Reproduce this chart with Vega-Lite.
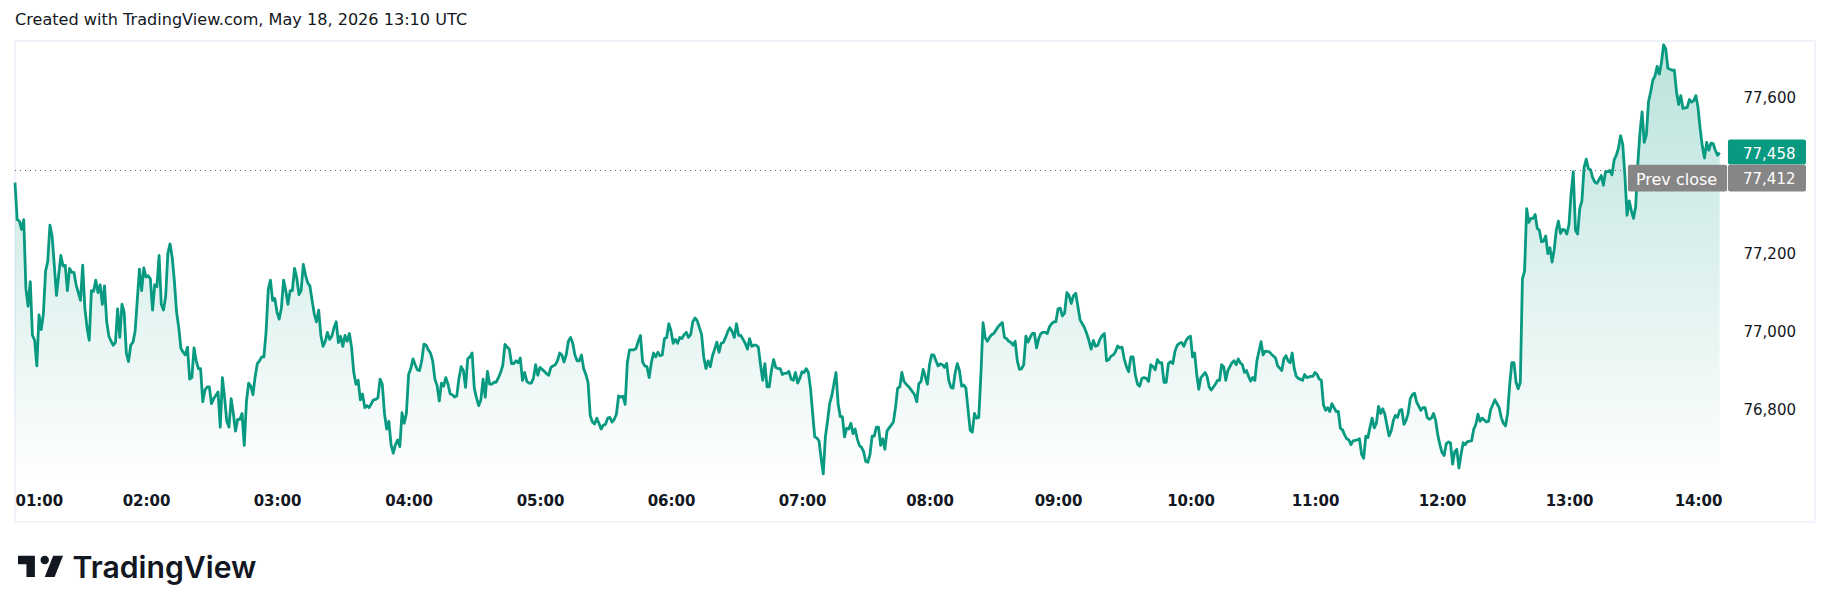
{"$schema":"https://vega.github.io/schema/vega-lite/v6.json","autosize":{"type":"none"},"padding":{"left":15,"top":41,"right":15,"bottom":89},"width":1800,"height":481,"background":"#ffffff","view":{"stroke":"#f0f3fa","strokeWidth":2},
"title":{"text":"Created with TradingView.com, May 18, 2026 13:10 UTC","anchor":"start","frame":"group","offset":13,"font":"DejaVu Sans","fontSize":16.1,"fontWeight":"normal","color":"#131722"},
"data":{"format":{"parse":{"t":"utc:'%H:%M'"}},"values":[
{"t":"01:00","p":77381},{"t":"01:01","p":77286},{"t":"01:02","p":77282},{"t":"01:03","p":77261},{"t":"01:04","p":77286},{"t":"01:05","p":77109},{"t":"01:06","p":77064},{"t":"01:07","p":77127},{"t":"01:08","p":76989},{"t":"01:09","p":76977},{"t":"01:10","p":76911},{"t":"01:11","p":77042},{"t":"01:12","p":77004},{"t":"01:13","p":77044},{"t":"01:14","p":77154},{"t":"01:15","p":77179},{"t":"01:16","p":77272},{"t":"01:17","p":77244},{"t":"01:18","p":77169},{"t":"01:19","p":77092},{"t":"01:20","p":77144},{"t":"01:21","p":77194},{"t":"01:22","p":77167},{"t":"01:23","p":77169},{"t":"01:24","p":77104},{"t":"01:25","p":77161},{"t":"01:26","p":77151},{"t":"01:27","p":77151},{"t":"01:28","p":77119},{"t":"01:30","p":77079},{"t":"01:31","p":77169},{"t":"01:32","p":77059},{"t":"01:33","p":77009},{"t":"01:34","p":76977},{"t":"01:35","p":77104},{"t":"01:36","p":77102},{"t":"01:37","p":77131},{"t":"01:38","p":77099},{"t":"01:39","p":77119},{"t":"01:40","p":77069},{"t":"01:41","p":77116},{"t":"01:42","p":77024},{"t":"01:43","p":76987},{"t":"01:44","p":76974},{"t":"01:45","p":76964},{"t":"01:46","p":76971},{"t":"01:47","p":77057},{"t":"01:48","p":76984},{"t":"01:49","p":77069},{"t":"01:50","p":77049},{"t":"01:51","p":76944},{"t":"01:52","p":76922},{"t":"01:53","p":76964},{"t":"01:54","p":76971},{"t":"01:55","p":76999},{"t":"01:56","p":77079},{"t":"01:57","p":77159},{"t":"01:58","p":77104},{"t":"01:59","p":77162},
{"t":"02:00","p":77139},{"t":"02:01","p":77142},{"t":"02:02","p":77134},{"t":"02:03","p":77054},{"t":"02:04","p":77119},{"t":"02:05","p":77114},{"t":"02:06","p":77194},{"t":"02:07","p":77069},{"t":"02:08","p":77054},{"t":"02:09","p":77089},{"t":"02:10","p":77199},{"t":"02:11","p":77224},{"t":"02:12","p":77189},{"t":"02:13","p":77129},{"t":"02:14","p":77049},{"t":"02:15","p":77009},{"t":"02:16","p":76956},{"t":"02:17","p":76946},{"t":"02:18","p":76939},{"t":"02:19","p":76959},{"t":"02:20","p":76877},{"t":"02:21","p":76881},{"t":"02:22","p":76957},{"t":"02:23","p":76924},{"t":"02:24","p":76904},{"t":"02:25","p":76904},{"t":"02:26","p":76819},{"t":"02:27","p":76849},{"t":"02:28","p":76857},{"t":"02:29","p":76857},{"t":"02:30","p":76814},{"t":"02:31","p":76827},{"t":"02:33","p":76844},{"t":"02:34","p":76754},{"t":"02:35","p":76881},{"t":"02:36","p":76829},{"t":"02:37","p":76769},{"t":"02:38","p":76754},{"t":"02:39","p":76827},{"t":"02:40","p":76789},{"t":"02:41","p":76744},{"t":"02:42","p":76774},{"t":"02:43","p":76774},{"t":"02:44","p":76789},{"t":"02:45","p":76707},{"t":"02:46","p":76819},{"t":"02:47","p":76867},{"t":"02:48","p":76859},{"t":"02:49","p":76837},{"t":"02:50","p":76884},{"t":"02:51","p":76917},{"t":"02:52","p":76924},{"t":"02:53","p":76934},{"t":"02:54","p":76934},{"t":"02:55","p":76999},{"t":"02:56","p":77107},{"t":"02:57","p":77131},{"t":"02:58","p":77079},{"t":"02:59","p":77084},
{"t":"03:00","p":77049},{"t":"03:01","p":77031},{"t":"03:02","p":77059},{"t":"03:03","p":77131},{"t":"03:04","p":77104},{"t":"03:05","p":77069},{"t":"03:06","p":77104},{"t":"03:07","p":77104},{"t":"03:08","p":77161},{"t":"03:09","p":77137},{"t":"03:10","p":77094},{"t":"03:11","p":77104},{"t":"03:12","p":77171},{"t":"03:13","p":77144},{"t":"03:14","p":77124},{"t":"03:15","p":77116},{"t":"03:16","p":77079},{"t":"03:17","p":77044},{"t":"03:18","p":77024},{"t":"03:19","p":77054},{"t":"03:20","p":76989},{"t":"03:21","p":76961},{"t":"03:22","p":76974},{"t":"03:23","p":76997},{"t":"03:24","p":76979},{"t":"03:25","p":76987},{"t":"03:26","p":77009},{"t":"03:27","p":77024},{"t":"03:28","p":76971},{"t":"03:29","p":76987},{"t":"03:30","p":76961},{"t":"03:31","p":76989},{"t":"03:32","p":76974},{"t":"03:33","p":76994},{"t":"03:34","p":76959},{"t":"03:35","p":76894},{"t":"03:36","p":76864},{"t":"03:37","p":76874},{"t":"03:38","p":76824},{"t":"03:39","p":76839},{"t":"03:40","p":76804},{"t":"03:41","p":76809},{"t":"03:42","p":76804},{"t":"03:43","p":76814},{"t":"03:44","p":76824},{"t":"03:45","p":76825},{"t":"03:46","p":76829},{"t":"03:47","p":76877},{"t":"03:48","p":76864},{"t":"03:49","p":76789},{"t":"03:50","p":76749},{"t":"03:51","p":76769},{"t":"03:52","p":76709},{"t":"03:53","p":76687},{"t":"03:54","p":76709},{"t":"03:55","p":76721},{"t":"03:56","p":76704},{"t":"03:57","p":76791},{"t":"03:58","p":76764},{"t":"03:59","p":76789},
{"t":"04:00","p":76889},{"t":"04:01","p":76904},{"t":"04:02","p":76929},{"t":"04:03","p":76914},{"t":"04:04","p":76901},{"t":"04:05","p":76899},{"t":"04:06","p":76924},{"t":"04:07","p":76967},{"t":"04:08","p":76964},{"t":"04:09","p":76952},{"t":"04:10","p":76944},{"t":"04:11","p":76924},{"t":"04:12","p":76877},{"t":"04:13","p":76861},{"t":"04:14","p":76821},{"t":"04:15","p":76867},{"t":"04:16","p":76859},{"t":"04:17","p":76881},{"t":"04:18","p":76864},{"t":"04:19","p":76839},{"t":"04:20","p":76837},{"t":"04:21","p":76831},{"t":"04:22","p":76834},{"t":"04:23","p":76879},{"t":"04:24","p":76909},{"t":"04:25","p":76899},{"t":"04:26","p":76856},{"t":"04:27","p":76929},{"t":"04:28","p":76934},{"t":"04:29","p":76944},{"t":"04:30","p":76854},{"t":"04:31","p":76829},{"t":"04:32","p":76809},{"t":"04:33","p":76824},{"t":"04:34","p":76877},{"t":"04:35","p":76831},{"t":"04:36","p":76897},{"t":"04:37","p":76864},{"t":"04:38","p":76864},{"t":"04:39","p":76869},{"t":"04:40","p":76869},{"t":"04:41","p":76881},{"t":"04:42","p":76894},{"t":"04:43","p":76912},{"t":"04:44","p":76966},{"t":"04:45","p":76959},{"t":"04:46","p":76954},{"t":"04:47","p":76917},{"t":"04:48","p":76917},{"t":"04:49","p":76924},{"t":"04:50","p":76919},{"t":"04:51","p":76931},{"t":"04:52","p":76874},{"t":"04:53","p":76894},{"t":"04:54","p":76871},{"t":"04:55","p":76867},{"t":"04:56","p":76867},{"t":"04:57","p":76879},{"t":"04:58","p":76914},{"t":"04:59","p":76887},
{"t":"05:00","p":76907},{"t":"05:01","p":76902},{"t":"05:02","p":76897},{"t":"05:03","p":76891},{"t":"05:04","p":76887},{"t":"05:05","p":76907},{"t":"05:06","p":76911},{"t":"05:07","p":76914},{"t":"05:08","p":76924},{"t":"05:09","p":76944},{"t":"05:10","p":76939},{"t":"05:11","p":76921},{"t":"05:12","p":76939},{"t":"05:13","p":76974},{"t":"05:14","p":76984},{"t":"05:15","p":76969},{"t":"05:16","p":76939},{"t":"05:17","p":76924},{"t":"05:18","p":76924},{"t":"05:19","p":76939},{"t":"05:20","p":76904},{"t":"05:21","p":76889},{"t":"05:22","p":76869},{"t":"05:23","p":76784},{"t":"05:24","p":76767},{"t":"05:25","p":76762},{"t":"05:26","p":76777},{"t":"05:27","p":76764},{"t":"05:28","p":76749},{"t":"05:29","p":76759},{"t":"05:30","p":76761},{"t":"05:31","p":76777},{"t":"05:32","p":76779},{"t":"05:33","p":76767},{"t":"05:34","p":76774},{"t":"05:35","p":76787},{"t":"05:36","p":76834},{"t":"05:37","p":76831},{"t":"05:38","p":76833},{"t":"05:39","p":76812},{"t":"05:40","p":76919},{"t":"05:41","p":76952},{"t":"05:42","p":76952},{"t":"05:43","p":76952},{"t":"05:44","p":76956},{"t":"05:45","p":76974},{"t":"05:46","p":76989},{"t":"05:47","p":76921},{"t":"05:48","p":76911},{"t":"05:49","p":76909},{"t":"05:50","p":76881},{"t":"05:51","p":76919},{"t":"05:52","p":76944},{"t":"05:53","p":76934},{"t":"05:54","p":76946},{"t":"05:55","p":76937},{"t":"05:56","p":76939},{"t":"05:57","p":76981},{"t":"05:58","p":76984},{"t":"05:59","p":77019},
{"t":"06:00","p":77001},{"t":"06:01","p":76969},{"t":"06:02","p":76979},{"t":"06:03","p":76969},{"t":"06:04","p":76984},{"t":"06:05","p":76981},{"t":"06:06","p":76991},{"t":"06:07","p":76997},{"t":"06:08","p":76984},{"t":"06:09","p":76991},{"t":"06:10","p":77024},{"t":"06:11","p":77034},{"t":"06:12","p":77027},{"t":"06:13","p":77009},{"t":"06:14","p":76992},{"t":"06:15","p":76934},{"t":"06:16","p":76904},{"t":"06:17","p":76924},{"t":"06:18","p":76909},{"t":"06:19","p":76937},{"t":"06:20","p":76954},{"t":"06:21","p":76972},{"t":"06:22","p":76946},{"t":"06:23","p":76969},{"t":"06:24","p":76971},{"t":"06:25","p":76984},{"t":"06:26","p":76999},{"t":"06:27","p":77009},{"t":"06:28","p":76999},{"t":"06:29","p":76984},{"t":"06:30","p":77019},{"t":"06:31","p":76989},{"t":"06:32","p":76989},{"t":"06:33","p":76979},{"t":"06:34","p":76969},{"t":"06:35","p":76954},{"t":"06:36","p":76981},{"t":"06:37","p":76961},{"t":"06:38","p":76964},{"t":"06:39","p":76964},{"t":"06:40","p":76959},{"t":"06:41","p":76914},{"t":"06:42","p":76874},{"t":"06:43","p":76917},{"t":"06:44","p":76857},{"t":"06:45","p":76857},{"t":"06:46","p":76899},{"t":"06:47","p":76927},{"t":"06:48","p":76907},{"t":"06:49","p":76904},{"t":"06:50","p":76904},{"t":"06:51","p":76889},{"t":"06:52","p":76892},{"t":"06:53","p":76892},{"t":"06:54","p":76897},{"t":"06:55","p":76877},{"t":"06:56","p":76874},{"t":"06:57","p":76894},{"t":"06:58","p":76867},{"t":"06:59","p":76879},
{"t":"07:00","p":76896},{"t":"07:01","p":76894},{"t":"07:02","p":76904},{"t":"07:03","p":76894},{"t":"07:04","p":76854},{"t":"07:05","p":76789},{"t":"07:06","p":76729},{"t":"07:07","p":76726},{"t":"07:08","p":76719},{"t":"07:09","p":76674},{"t":"07:10","p":76634},{"t":"07:11","p":76729},{"t":"07:12","p":76769},{"t":"07:13","p":76814},{"t":"07:14","p":76834},{"t":"07:16","p":76894},{"t":"07:17","p":76814},{"t":"07:18","p":76781},{"t":"07:19","p":76781},{"t":"07:20","p":76729},{"t":"07:21","p":76751},{"t":"07:22","p":76749},{"t":"07:23","p":76764},{"t":"07:24","p":76737},{"t":"07:25","p":76749},{"t":"07:26","p":76724},{"t":"07:27","p":76707},{"t":"07:28","p":76702},{"t":"07:29","p":76691},{"t":"07:30","p":76666},{"t":"07:31","p":76664},{"t":"07:32","p":76684},{"t":"07:33","p":76731},{"t":"07:34","p":76731},{"t":"07:35","p":76754},{"t":"07:36","p":76754},{"t":"07:37","p":76707},{"t":"07:38","p":76724},{"t":"07:39","p":76697},{"t":"07:40","p":76744},{"t":"07:41","p":76752},{"t":"07:42","p":76759},{"t":"07:43","p":76767},{"t":"07:44","p":76804},{"t":"07:45","p":76854},{"t":"07:46","p":76857},{"t":"07:47","p":76894},{"t":"07:48","p":76871},{"t":"07:49","p":76864},{"t":"07:50","p":76859},{"t":"07:51","p":76852},{"t":"07:53","p":76837},{"t":"07:54","p":76819},{"t":"07:55","p":76866},{"t":"07:56","p":76871},{"t":"07:57","p":76902},{"t":"07:58","p":76884},{"t":"07:59","p":76864},
{"t":"08:00","p":76914},{"t":"08:01","p":76939},{"t":"08:02","p":76939},{"t":"08:03","p":76924},{"t":"08:04","p":76911},{"t":"08:05","p":76916},{"t":"08:06","p":76914},{"t":"08:07","p":76907},{"t":"08:08","p":76917},{"t":"08:09","p":76874},{"t":"08:10","p":76856},{"t":"08:11","p":76854},{"t":"08:12","p":76894},{"t":"08:13","p":76917},{"t":"08:14","p":76899},{"t":"08:15","p":76859},{"t":"08:16","p":76862},{"t":"08:17","p":76854},{"t":"08:18","p":76799},{"t":"08:19","p":76746},{"t":"08:20","p":76741},{"t":"08:21","p":76789},{"t":"08:22","p":76777},{"t":"08:23","p":76779},{"t":"08:24","p":76889},{"t":"08:25","p":77022},{"t":"08:26","p":76984},{"t":"08:27","p":76974},{"t":"08:28","p":76984},{"t":"08:29","p":76991},{"t":"08:30","p":76994},{"t":"08:32","p":77011},{"t":"08:33","p":77017},{"t":"08:34","p":77022},{"t":"08:35","p":76984},{"t":"08:36","p":76981},{"t":"08:37","p":76974},{"t":"08:38","p":76971},{"t":"08:39","p":76964},{"t":"08:40","p":76974},{"t":"08:41","p":76924},{"t":"08:42","p":76902},{"t":"08:43","p":76904},{"t":"08:44","p":76914},{"t":"08:45","p":76987},{"t":"08:46","p":76972},{"t":"08:47","p":76984},{"t":"08:48","p":76994},{"t":"08:49","p":76994},{"t":"08:50","p":76957},{"t":"08:51","p":76981},{"t":"08:52","p":76994},{"t":"08:53","p":76997},{"t":"08:54","p":76997},{"t":"08:55","p":76994},{"t":"08:56","p":77011},{"t":"08:57","p":77019},{"t":"08:58","p":77024},{"t":"08:59","p":77024},
{"t":"09:00","p":77057},{"t":"09:01","p":77059},{"t":"09:02","p":77039},{"t":"09:03","p":77046},{"t":"09:04","p":77099},{"t":"09:05","p":77092},{"t":"09:06","p":77071},{"t":"09:07","p":77091},{"t":"09:08","p":77097},{"t":"09:09","p":77064},{"t":"09:10","p":77029},{"t":"09:11","p":77019},{"t":"09:12","p":77009},{"t":"09:13","p":76994},{"t":"09:14","p":76976},{"t":"09:15","p":76954},{"t":"09:16","p":76976},{"t":"09:17","p":76961},{"t":"09:18","p":76964},{"t":"09:19","p":76979},{"t":"09:20","p":76989},{"t":"09:21","p":76994},{"t":"09:22","p":76924},{"t":"09:23","p":76927},{"t":"09:24","p":76936},{"t":"09:25","p":76939},{"t":"09:26","p":76947},{"t":"09:27","p":76962},{"t":"09:28","p":76957},{"t":"09:29","p":76959},{"t":"09:30","p":76929},{"t":"09:31","p":76909},{"t":"09:32","p":76896},{"t":"09:33","p":76934},{"t":"09:34","p":76934},{"t":"09:35","p":76889},{"t":"09:36","p":76864},{"t":"09:37","p":76859},{"t":"09:38","p":76879},{"t":"09:39","p":76881},{"t":"09:40","p":76879},{"t":"09:41","p":76871},{"t":"09:42","p":76914},{"t":"09:43","p":76909},{"t":"09:44","p":76901},{"t":"09:45","p":76927},{"t":"09:46","p":76919},{"t":"09:47","p":76919},{"t":"09:48","p":76869},{"t":"09:49","p":76869},{"t":"09:50","p":76917},{"t":"09:51","p":76922},{"t":"09:52","p":76917},{"t":"09:53","p":76949},{"t":"09:54","p":76964},{"t":"09:55","p":76969},{"t":"09:56","p":76971},{"t":"09:57","p":76961},{"t":"09:58","p":76976},{"t":"09:59","p":76984},
{"t":"10:00","p":76987},{"t":"10:01","p":76934},{"t":"10:02","p":76944},{"t":"10:03","p":76889},{"t":"10:04","p":76851},{"t":"10:05","p":76881},{"t":"10:06","p":76887},{"t":"10:07","p":76894},{"t":"10:08","p":76884},{"t":"10:09","p":76857},{"t":"10:10","p":76849},{"t":"10:12","p":76864},{"t":"10:13","p":76874},{"t":"10:14","p":76874},{"t":"10:15","p":76914},{"t":"10:16","p":76909},{"t":"10:17","p":76874},{"t":"10:18","p":76899},{"t":"10:20","p":76919},{"t":"10:21","p":76924},{"t":"10:22","p":76914},{"t":"10:23","p":76929},{"t":"10:24","p":76919},{"t":"10:25","p":76914},{"t":"10:26","p":76894},{"t":"10:27","p":76899},{"t":"10:28","p":76884},{"t":"10:29","p":76872},{"t":"10:30","p":76881},{"t":"10:31","p":76874},{"t":"10:32","p":76924},{"t":"10:34","p":76973},{"t":"10:35","p":76939},{"t":"10:36","p":76949},{"t":"10:38","p":76947},{"t":"10:39","p":76941},{"t":"10:41","p":76931},{"t":"10:42","p":76911},{"t":"10:44","p":76899},{"t":"10:45","p":76929},{"t":"10:46","p":76937},{"t":"10:47","p":76924},{"t":"10:48","p":76919},{"t":"10:49","p":76944},{"t":"10:50","p":76904},{"t":"10:51","p":76884},{"t":"10:52","p":76879},{"t":"10:54","p":76874},{"t":"10:55","p":76889},{"t":"10:56","p":76881},{"t":"10:58","p":76884},{"t":"10:59","p":76884},
{"t":"11:00","p":76894},{"t":"11:01","p":76889},{"t":"11:02","p":76877},{"t":"11:03","p":76874},{"t":"11:04","p":76811},{"t":"11:05","p":76797},{"t":"11:06","p":76804},{"t":"11:07","p":76794},{"t":"11:08","p":76814},{"t":"11:09","p":76804},{"t":"11:10","p":76794},{"t":"11:11","p":76794},{"t":"11:12","p":76751},{"t":"11:13","p":76747},{"t":"11:14","p":76734},{"t":"11:15","p":76724},{"t":"11:16","p":76721},{"t":"11:17","p":76709},{"t":"11:18","p":76719},{"t":"11:20","p":76721},{"t":"11:21","p":76724},{"t":"11:22","p":76684},{"t":"11:23","p":76674},{"t":"11:24","p":76731},{"t":"11:25","p":76727},{"t":"11:26","p":76754},{"t":"11:27","p":76777},{"t":"11:28","p":76752},{"t":"11:29","p":76764},{"t":"11:30","p":76807},{"t":"11:31","p":76789},{"t":"11:32","p":76801},{"t":"11:33","p":76787},{"t":"11:34","p":76759},{"t":"11:35","p":76731},{"t":"11:36","p":76744},{"t":"11:37","p":76771},{"t":"11:38","p":76784},{"t":"11:39","p":76779},{"t":"11:40","p":76797},{"t":"11:41","p":76799},{"t":"11:42","p":76761},{"t":"11:43","p":76771},{"t":"11:44","p":76789},{"t":"11:45","p":76827},{"t":"11:46","p":76837},{"t":"11:47","p":76841},{"t":"11:48","p":76819},{"t":"11:50","p":76797},{"t":"11:51","p":76804},{"t":"11:52","p":76804},{"t":"11:53","p":76779},{"t":"11:54","p":76774},{"t":"11:55","p":76777},{"t":"11:56","p":76789},{"t":"11:57","p":76771},{"t":"11:58","p":76734},{"t":"11:59","p":76709},
{"t":"12:00","p":76689},{"t":"12:01","p":76681},{"t":"12:02","p":76711},{"t":"12:03","p":76716},{"t":"12:04","p":76714},{"t":"12:05","p":76659},{"t":"12:06","p":76691},{"t":"12:07","p":76697},{"t":"12:08","p":76649},{"t":"12:09","p":76684},{"t":"12:10","p":76714},{"t":"12:11","p":76709},{"t":"12:12","p":76717},{"t":"12:14","p":76719},{"t":"12:15","p":76749},{"t":"12:16","p":76761},{"t":"12:17","p":76787},{"t":"12:18","p":76769},{"t":"12:19","p":76777},{"t":"12:21","p":76767},{"t":"12:22","p":76769},{"t":"12:23","p":76799},{"t":"12:25","p":76824},{"t":"12:26","p":76814},{"t":"12:27","p":76804},{"t":"12:28","p":76779},{"t":"12:29","p":76764},{"t":"12:30","p":76757},{"t":"12:31","p":76789},{"t":"12:32","p":76864},{"t":"12:33","p":76919},{"t":"12:34","p":76919},{"t":"12:35","p":76869},{"t":"12:36","p":76852},{"t":"12:37","p":76869},{"t":"12:38","p":77134},{"t":"12:39","p":77154},{"t":"12:40","p":77314},{"t":"12:41","p":77279},{"t":"12:42","p":77289},{"t":"12:43","p":77289},{"t":"12:44","p":77299},{"t":"12:45","p":77264},{"t":"12:46","p":77259},{"t":"12:47","p":77229},{"t":"12:48","p":77231},{"t":"12:49","p":77244},{"t":"12:50","p":77199},{"t":"12:51","p":77214},{"t":"12:52","p":77177},{"t":"12:53","p":77209},{"t":"12:54","p":77259},{"t":"12:55","p":77282},{"t":"12:56","p":77251},{"t":"12:57","p":77261},{"t":"12:58","p":77259},{"t":"12:59","p":77249},
{"t":"13:00","p":77274},{"t":"13:01","p":77354},{"t":"13:02","p":77409},{"t":"13:03","p":77259},{"t":"13:04","p":77249},{"t":"13:05","p":77314},{"t":"13:06","p":77334},{"t":"13:07","p":77419},{"t":"13:08","p":77441},{"t":"13:09","p":77417},{"t":"13:10","p":77414},{"t":"13:11","p":77394},{"t":"13:12","p":77382},{"t":"13:13","p":77379},{"t":"13:15","p":77399},{"t":"13:16","p":77374},{"t":"13:17","p":77409},{"t":"13:18","p":77409},{"t":"13:19","p":77412},{"t":"13:20","p":77401},{"t":"13:21","p":77439},{"t":"13:22","p":77451},{"t":"13:23","p":77469},{"t":"13:24","p":77501},{"t":"13:25","p":77479},{"t":"13:26","p":77399},{"t":"13:27","p":77297},{"t":"13:28","p":77334},{"t":"13:29","p":77309},{"t":"13:30","p":77289},{"t":"13:31","p":77319},{"t":"13:32","p":77429},{"t":"13:33","p":77509},{"t":"13:34","p":77562},{"t":"13:35","p":77484},{"t":"13:36","p":77504},{"t":"13:37","p":77589},{"t":"13:38","p":77614},{"t":"13:39","p":77644},{"t":"13:40","p":77654},{"t":"13:41","p":77679},{"t":"13:42","p":77659},{"t":"13:43","p":77689},{"t":"13:44","p":77734},{"t":"13:45","p":77724},{"t":"13:46","p":77674},{"t":"13:48","p":77669},{"t":"13:49","p":77669},{"t":"13:50","p":77614},{"t":"13:51","p":77581},{"t":"13:52","p":77604},{"t":"13:53","p":77571},{"t":"13:55","p":77574},{"t":"13:56","p":77594},{"t":"13:57","p":77587},{"t":"13:58","p":77591},{"t":"13:59","p":77604},
{"t":"14:00","p":77574},{"t":"14:01","p":77519},{"t":"14:02","p":77474},{"t":"14:03","p":77444},{"t":"14:04","p":77484},{"t":"14:05","p":77464},{"t":"14:06","p":77482},{"t":"14:07","p":77481},{"t":"14:08","p":77464},{"t":"14:09","p":77451},{"t":"14:10","p":77458}
]},
"layer":[
{"mark":{"type":"area","color":{"gradient":"linear","x1":1,"y1":0,"x2":1,"y2":1,"stops":[{"offset":0,"color":"rgba(8,153,129,0.28)"},{"offset":1,"color":"rgba(8,153,129,0)"}]}},
"encoding":{"x":{"field":"t","type":"temporal","title":null,
"scale":{"type":"utc","nice":false,"domain":{"expr":"[utc(1900,0,1,1),utc(1900,0,1,2),utc(1900,0,1,3),utc(1900,0,1,4),utc(1900,0,1,5),utc(1900,0,1,6),utc(1900,0,1,7),utc(1900,0,1,8),utc(1900,0,1,9),utc(1900,0,1,10),utc(1900,0,1,11),utc(1900,0,1,12),utc(1900,0,1,13),utc(1900,0,1,14),utc(1900,0,1,14,54)]"},"range":[0,131,262,393.6,525,656,787,914.5,1043,1175.5,1300,1427,1554,1683,1800]},
"axis":{"orient":"bottom","title":null,"labelExpr":"utcFormat(datum.value,'%H:%M')","grid":false,"domain":false,"ticks":false,"tickSize":0,"labelPadding":-29,"labelFlush":true,"labelBound":false,"labelOverlap":false,"labelFont":"DejaVu Sans","labelFontSize":15,"labelFontWeight":"bold","labelColor":"#131722","values":[{"year":1900,"month":1,"date":1,"hours":1,"utc":true},{"year":1900,"month":1,"date":1,"hours":2,"utc":true},{"year":1900,"month":1,"date":1,"hours":3,"utc":true},{"year":1900,"month":1,"date":1,"hours":4,"utc":true},{"year":1900,"month":1,"date":1,"hours":5,"utc":true},{"year":1900,"month":1,"date":1,"hours":6,"utc":true},{"year":1900,"month":1,"date":1,"hours":7,"utc":true},{"year":1900,"month":1,"date":1,"hours":8,"utc":true},{"year":1900,"month":1,"date":1,"hours":9,"utc":true},{"year":1900,"month":1,"date":1,"hours":10,"utc":true},{"year":1900,"month":1,"date":1,"hours":11,"utc":true},{"year":1900,"month":1,"date":1,"hours":12,"utc":true},{"year":1900,"month":1,"date":1,"hours":13,"utc":true},{"year":1900,"month":1,"date":1,"hours":14,"utc":true}]}},
"y":{"field":"p","type":"quantitative","title":null,"scale":{"domain":[76510.7,77744],"nice":false,"zero":false},
"axis":{"orient":"right","title":null,"format":",d","values":[76800,77000,77200,77600],"grid":false,"domain":false,"ticks":false,"tickSize":0,"labelPadding":-72,"labelAlign":"left","labelFont":"DejaVu Sans","labelFontSize":15,"labelColor":"#131722"}},
"y2":{"datum":76612}}},
{"mark":{"type":"line","stroke":"#089981","strokeWidth":2.8,"strokeJoin":"round"},"encoding":{"x":{"field":"t","type":"temporal"},"y":{"field":"p","type":"quantitative"}}},
{"data":{"values":[{"t":"01:00:00","t2":"14:14:00","p":77412}],"format":{"parse":{"t":"utc:'%H:%M:%S'","t2":"utc:'%H:%M:%S'"}}},"mark":{"type":"rule","stroke":"#5d606b","strokeWidth":1,"strokeDash":[1,4]},"encoding":{"x":{"field":"t","type":"temporal"},"x2":{"field":"t2"},"y":{"field":"p","type":"quantitative"}}},
{"data":{"values":[{"t":"14:13:50","t2":"14:49:50","p":77427.4,"p2":77491.5,"c":"price"},{"t":"14:13:50","t2":"14:49:50","p":77358,"p2":77427,"c":"prev"},{"t":"13:27:25","t2":"14:13:25","p":77358,"p2":77427,"c":"prev"}],"format":{"parse":{"t":"utc:'%H:%M:%S'","t2":"utc:'%H:%M:%S'"}}},"mark":{"type":"rect","cornerRadius":2},"encoding":{"x":{"field":"t","type":"temporal"},"x2":{"field":"t2"},"y":{"field":"p","type":"quantitative"},"y2":{"field":"p2"},"color":{"field":"c","type":"nominal","legend":null,"scale":{"domain":["price","prev"],"range":["#089981","#868686"]}}}},
{"data":{"values":[{"t":"14:20:46","p":77455,"s":"77,458"},{"t":"14:20:46","p":77391,"s":"77,412"}],"format":{"parse":{"t":"utc:'%H:%M:%S'"}}},"mark":{"type":"text","align":"left","baseline":"middle","font":"DejaVu Sans","fontSize":15,"color":"#ffffff"},"encoding":{"x":{"field":"t","type":"temporal"},"y":{"field":"p","type":"quantitative"},"text":{"field":"s"}}},
{"data":{"values":[{"t":"13:50:00","p":77388,"s":"Prev close"}],"format":{"parse":{"t":"utc:'%H:%M:%S'"}}},"mark":{"type":"text","align":"center","baseline":"middle","font":"DejaVu Sans","fontSize":16,"color":"#ffffff"},"encoding":{"x":{"field":"t","type":"temporal"},"y":{"field":"p","type":"quantitative"},"text":{"field":"s"}}},
{"data":{"values":[{"t":"01:11:41","p":76397}],"format":{"parse":{"t":"utc:'%H:%M:%S'"}}},"mark":{"type":"point","filled":true,"opacity":1,"color":"#131722","size":2025,"shape":"M-0.25,-0.469H-1V-0.094H-0.625V0.469H-0.25ZM0.625,0.469H0.1875L0.5625,-0.469H1ZM0.1875,-0.094A0.1875,0.1875 0 1 0 0.1875,-0.469A0.1875,0.1875 0 0 0 0.1875,-0.094Z"},"encoding":{"x":{"field":"t","type":"temporal"},"y":{"field":"p","type":"quantitative"}}},
{"data":{"values":[{"t":"01:26:20","p":76390,"s":"TradingView"}],"format":{"parse":{"t":"utc:'%H:%M:%S'"}}},"mark":{"type":"text","align":"left","baseline":"middle","font":"Inter","fontSize":30.2,"fontWeight":600,"color":"#131722"},"encoding":{"x":{"field":"t","type":"temporal"},"y":{"field":"p","type":"quantitative"},"text":{"field":"s"}}}
]}
